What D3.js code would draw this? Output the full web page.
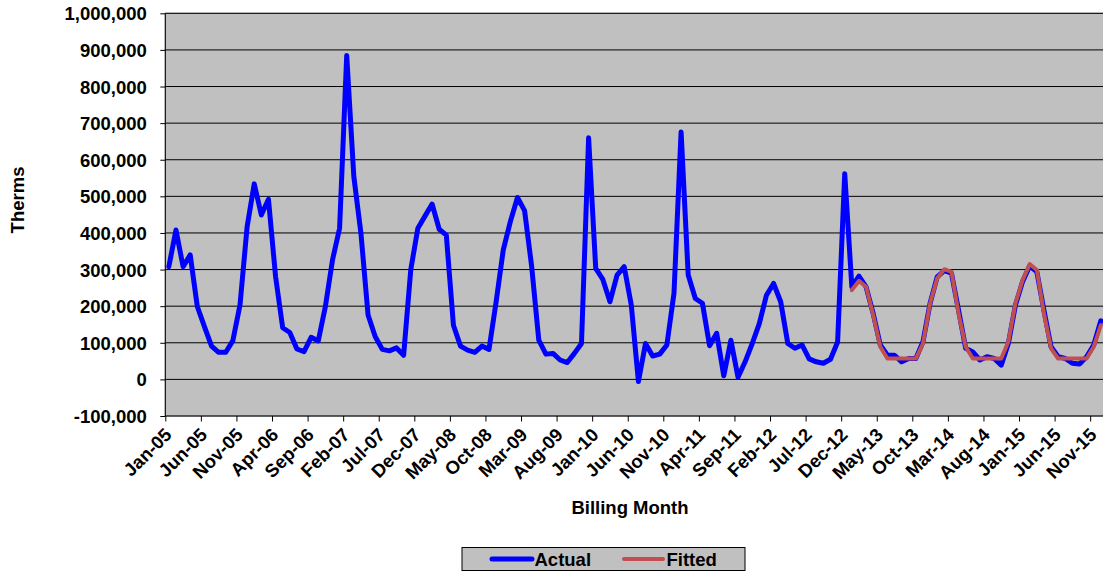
<!DOCTYPE html>
<html>
<head>
<meta charset="utf-8">
<script src="https://cdn.jsdelivr.net/npm/d3@7"></script>
<style>
  html, body { margin: 0; padding: 0; background: #fff; }
  svg { display: block; }
  text { font-family: "Liberation Sans", Arial, sans-serif; font-weight: bold; fill: #000; }
</style>
</head>
<body>
<svg id="chart" width="1103" height="573"></svg>
<script>
// ---- Data ----
const startMonth = "2005-01";
const monthCount = 132;

const tickLabels = ["Jan-05","Jun-05","Nov-05","Apr-06","Sep-06","Feb-07","Jul-07","Dec-07",
  "May-08","Oct-08","Mar-09","Aug-09","Jan-10","Jun-10","Nov-10","Apr-11","Sep-11","Feb-12",
  "Jul-12","Dec-12","May-13","Oct-13","Mar-14","Aug-14","Jan-15","Jun-15","Nov-15"];

const yTicks = [-100000,0,100000,200000,300000,400000,500000,600000,700000,800000,900000,1000000];

const actual = [
  308000,408000,308000,340000,199000,144000,91000,74000,74000,106000,203000,417000,
  534000,449000,492000,281000,141000,128000,83000,76000,115000,105000,199000,326000,
  413000,885000,554000,399000,176000,117000,82000,78000,86000,66000,299000,413000,
  446000,479000,410000,394000,148000,91000,80000,74000,91000,82000,212000,353000,
  431000,497000,461000,308000,107000,69000,71000,53000,46000,71000,98000,660000,
  303000,273000,212000,285000,308000,203000,-6000,98000,64000,69000,94000,235000,
  676000,285000,221000,208000,92000,126000,10000,107000,6000,48000,98000,153000,
  230000,262000,212000,98000,85000,94000,56000,48000,44000,55000,102000,562000,
  253000,282000,253000,180000,94000,66000,66000,48000,57000,57000,103000,208000,
  280000,297000,290000,189000,85000,75000,53000,62000,57000,39000,98000,203000,
  267000,310000,294000,189000,89000,62000,57000,44000,42000,62000,94000,160000
];

const fitted = [
  null,null,null,null,null,null,null,null,null,null,null,null,
  null,null,null,null,null,null,null,null,null,null,null,null,
  null,null,null,null,null,null,null,null,null,null,null,null,
  null,null,null,null,null,null,null,null,null,null,null,null,
  null,null,null,null,null,null,null,null,null,null,null,null,
  null,null,null,null,null,null,null,null,null,null,null,null,
  null,null,null,null,null,null,null,null,null,null,null,null,
  null,null,null,null,null,null,null,null,null,null,null,null,
  244000,269000,253000,176000,89000,57000,57000,57000,57000,57000,98000,208000,
  276000,301000,294000,180000,89000,57000,57000,57000,57000,57000,103000,208000,
  271000,315000,299000,180000,85000,57000,57000,57000,57000,57000,89000,148000
];

const seriesNames = ["Actual","Fitted"];
const seriesColors = ["#0000FF","#C0504D"];

// ---- Layout ----
const svg = d3.select("#chart");
const plot = { left: 165.3, right: 1104.4, top: 13.3, bottom: 416 };

const xi = d3.scaleLinear().domain([0, monthCount]).range([plot.left, plot.right]);
const y = d3.scaleLinear().domain([-100000, 1000000]).range([plot.bottom, plot.top]);

// plot background
svg.append("rect")
  .attr("x", plot.left).attr("y", plot.top)
  .attr("width", plot.right - plot.left).attr("height", plot.bottom - plot.top)
  .attr("fill", "#C0C0C0").attr("stroke", "#808080").attr("stroke-width", 1);

// gridlines
svg.append("g").selectAll("line").data(yTicks.filter(d => d > -100000)).join("line")
  .attr("x1", plot.left).attr("x2", plot.right)
  .attr("y1", d => y(d)).attr("y2", d => y(d))
  .attr("stroke", "#000").attr("stroke-width", 1);

// y axis
const fmt = d3.format(",");
const yAxis = svg.append("g")
  .attr("transform", `translate(${plot.left},0)`)
  .call(d3.axisLeft(y).tickValues(yTicks).tickSize(5).tickPadding(13.5)
    .tickFormat(d => fmt(d).replace("\u2212", "-")));
yAxis.selectAll("text").style("font-size", "18.5px").attr("dy", "0.35em");
yAxis.selectAll("line, path").attr("stroke", "#000");
yAxis.select(".domain").attr("d", `M0,${plot.top}V${plot.bottom}`);

// x axis
const xTickIdx = tickLabels.map((_, k) => k * 5);
const xAxis = svg.append("g")
  .attr("transform", `translate(0,${plot.bottom})`)
  .call(d3.axisBottom(xi).tickValues(xTickIdx).tickSize(5.5)
    .tickFormat((d, k) => tickLabels[k]));
xAxis.select(".domain").attr("d", `M${plot.left},0H${plot.right}`).attr("stroke", "#000");
xAxis.selectAll(".tick line").attr("stroke", "#000");
xAxis.selectAll(".tick text")
  .style("font-size", "18.5px")
  .attr("text-anchor", "end")
  .attr("x", 0).attr("y", 0).attr("dy", 0)
  .attr("transform", "translate(7,20) rotate(-45)");

// series lines
const xPos = i => xi(i + 0.5);
const lineGen = d3.line()
  .defined(d => d != null)
  .x((d, i) => xPos(i))
  .y(d => y(d));

svg.append("path").datum(actual)
  .attr("d", lineGen).attr("fill", "none")
  .attr("stroke", seriesColors[0]).attr("stroke-width", 5)
  .attr("stroke-linejoin", "round").attr("stroke-linecap", "round");

svg.append("path").datum(fitted)
  .attr("d", lineGen).attr("fill", "none")
  .attr("stroke", seriesColors[1]).attr("stroke-width", 4)
  .attr("stroke-linejoin", "round").attr("stroke-linecap", "round");

// axis titles
svg.append("text")
  .attr("x", 630).attr("y", 514)
  .attr("text-anchor", "middle").style("font-size", "18.5px")
  .text("Billing Month");

svg.append("text")
  .attr("transform", "translate(24,200) rotate(-90)")
  .attr("text-anchor", "middle").style("font-size", "18.5px")
  .text("Therms");

// legend
const lg = svg.append("g");
lg.append("rect")
  .attr("x", 462).attr("y", 547.5).attr("width", 283).attr("height", 23)
  .attr("fill", "#C0C0C0").attr("stroke", "#000").attr("stroke-width", 1);
const legendItems = [
  { x1: 492, x2: 532, tx: 534.5 },
  { x1: 624, x2: 663, tx: 666.5 }
];
legendItems.forEach((it, k) => {
  lg.append("line")
    .attr("x1", it.x1).attr("x2", it.x2).attr("y1", 559).attr("y2", 559)
    .attr("stroke", seriesColors[k]).attr("stroke-width", k === 0 ? 5 : 4)
    .attr("stroke-linecap", "round");
  lg.append("text")
    .attr("x", it.tx).attr("y", 565.5)
    .style("font-size", "18.5px")
    .text(seriesNames[k]);
});
</script>
</body>
</html>
